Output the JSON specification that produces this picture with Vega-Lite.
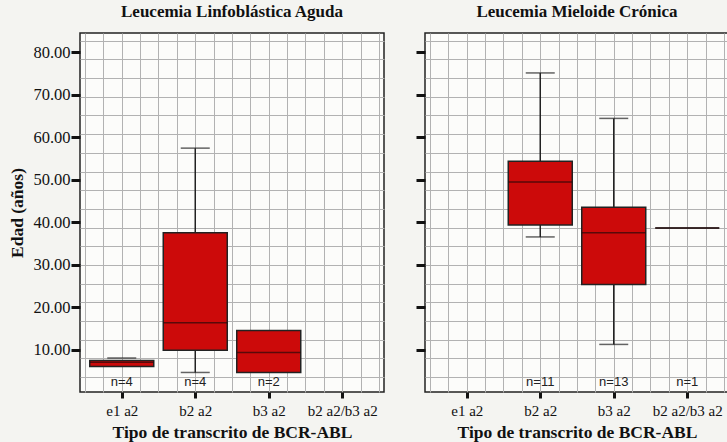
{
  "$schema": "https://vega.github.io/schema/vega-lite/v6.json",
  "background": "#f4f4f1",
  "padding": {"left": 8, "top": 1, "right": 0, "bottom": 0},
  "spacing": 28,
  "config": {
    "view": {"stroke": "#222222", "strokeWidth": 1.5, "fill": "#fcfcfa"},
    "font": "Liberation Serif",
    "title": {"font": "Liberation Serif", "fontSize": 17, "fontWeight": "bold", "color": "#111111", "offset": 12},
    "axis": {
      "labelFont": "Liberation Serif",
      "titleFont": "Liberation Serif",
      "titleFontWeight": "bold",
      "titleFontSize": 17.5,
      "titleColor": "#111111",
      "labelColor": "#111111",
      "domain": false,
      "grid": true,
      "gridColor": "#b2b2b2",
      "gridWidth": 1,
      "tickColor": "#111111",
      "tickWidth": 3,
      "tickCount": 200
    }
  },
  "datasets": {
    "lla": [
      {"tipo": "e1 a2", "min": null, "q1": 6.0, "mediana": 7.0, "q3": 7.4, "max": 8.0, "n": 4},
      {"tipo": "b2 a2", "min": 4.6, "q1": 9.8, "mediana": 16.3, "q3": 37.5, "max": 57.4, "n": 4},
      {"tipo": "b3 a2", "min": null, "q1": 4.6, "mediana": 9.3, "q3": 14.5, "max": null, "n": 2}
    ],
    "lmc": [
      {"tipo": "b2 a2", "min": 36.5, "q1": 39.3, "mediana": 49.4, "q3": 54.3, "max": 75.1, "n": 11},
      {"tipo": "b3 a2", "min": 11.2, "q1": 25.3, "mediana": 37.5, "q3": 43.5, "max": 64.4, "n": 13},
      {"tipo": "b2 a2/b3 a2", "min": null, "q1": 38.6, "mediana": 38.6, "q3": 38.6, "max": null, "n": 1}
    ]
  },
  "hconcat": [
    {
      "title": "Leucemia Linfoblástica Aguda",
      "width": 304,
      "height": 359,
      "data": {"name": "lla"},
      "transform": [
        {"calculate": "indexof(['e1 a2','b2 a2','b3 a2','b2 a2/b3 a2'], datum.tipo) + 1", "as": "idx"},
        {"calculate": "'n=' + datum.n", "as": "etiqueta"}
      ],
      "encoding": {
        "x": {
          "field": "idx", "type": "quantitative", "title": "Tipo de transcrito de BCR-ABL",
          "scale": {"domain": [0.5, 4.5], "nice": false, "zero": false},
          "axis": {
            "values": [0.5, 0.75, 1, 1.25, 1.5, 1.75, 2, 2.25, 2.5, 2.75, 3, 3.25, 3.5, 3.75, 4, 4.25, 4.5],
            "tickCount": 200,
            "labelExpr": "datum.value % 1 === 0 ? ['', 'e1 a2', 'b2 a2', 'b3 a2', 'b2 a2/b3 a2'][datum.value] : ''",
            "tickOpacity": {"condition": {"test": "datum.value % 1 === 0", "value": 1}, "value": 0},
            "tickSize": 6,
            "labelFontSize": 15,
            "labelPadding": 5,
            "titlePadding": 5,
            "labelOverlap": false
          }
        }
      },
      "layer": [
        {
          "mark": {"type": "rule", "color": "#222222", "strokeWidth": 1.5},
          "encoding": {
            "y": {
              "field": "min", "type": "quantitative", "title": "Edad (años)",
              "scale": {"domain": [0, 84.5], "nice": false, "zero": false},
              "axis": {
                "values": [3.5, 7.9, 10, 12.3, 16.7, 20, 21.1, 25.5, 29.9, 30, 34.3, 38.7, 40, 43.1, 47.5, 50, 51.9, 56.3, 60, 60.7, 65.1, 69.5, 70, 73.9, 78.3, 80, 82.7],
                "tickCount": 200,
                "labelExpr": "datum.value % 10 === 0 ? format(datum.value, '.2f') : ''",
                "tickOpacity": {"condition": {"test": "datum.value % 10 === 0", "value": 1}, "value": 0},
                "gridOpacity": {"condition": {"test": "datum.value % 10 === 0", "value": 0}, "value": 1},
                "tickSize": 9,
                "labelFontSize": 16.5,
                "labelPadding": 1,
                "titlePadding": 6,
                "labelOverlap": false
              }
            },
            "y2": {"field": "max"}
          }
        },
        {
          "mark": {"type": "tick", "orient": "horizontal", "size": 29, "thickness": 1.5, "color": "#222222"},
          "encoding": {"y": {"field": "max", "type": "quantitative", "title": "Edad (años)"}}
        },
        {
          "mark": {"type": "tick", "orient": "horizontal", "size": 29, "thickness": 1.5, "color": "#222222"},
          "encoding": {"y": {"field": "min", "type": "quantitative", "title": "Edad (años)"}}
        },
        {
          "mark": {"type": "bar", "width": 64, "fill": "#cc0a0a", "stroke": "#222222", "strokeWidth": 1.5},
          "encoding": {
            "y": {"field": "q1", "type": "quantitative", "title": "Edad (años)"},
            "y2": {"field": "q3"}
          }
        },
        {
          "mark": {"type": "tick", "orient": "horizontal", "size": 64, "thickness": 1.5, "color": "#2a0808"},
          "encoding": {"y": {"field": "mediana", "type": "quantitative", "title": "Edad (años)"}}
        },
        {
          "mark": {"type": "text", "font": "Liberation Sans", "fontSize": 13, "color": "#222222"},
          "encoding": {
            "y": {"datum": 2.3, "type": "quantitative", "title": "Edad (años)"},
            "text": {"field": "etiqueta"}
          }
        }
      ]
    },
    {
      "title": "Leucemia Mieloide Crónica",
      "width": 304,
      "height": 359,
      "data": {"name": "lmc"},
      "transform": [
        {"calculate": "indexof(['e1 a2','b2 a2','b3 a2','b2 a2/b3 a2'], datum.tipo) + 1", "as": "idx"},
        {"calculate": "'n=' + datum.n", "as": "etiqueta"}
      ],
      "encoding": {
        "x": {
          "field": "idx", "type": "quantitative", "title": "Tipo de transcrito de BCR-ABL",
          "scale": {"domain": [0.5, 4.5], "nice": false, "zero": false},
          "axis": {
            "values": [0.5, 0.75, 1, 1.25, 1.5, 1.75, 2, 2.25, 2.5, 2.75, 3, 3.25, 3.5, 3.75, 4, 4.25, 4.5],
            "tickCount": 200,
            "labelExpr": "datum.value % 1 === 0 ? ['', 'e1 a2', 'b2 a2', 'b3 a2', 'b2 a2/b3 a2'][datum.value] : ''",
            "tickOpacity": {"condition": {"test": "datum.value % 1 === 0", "value": 1}, "value": 0},
            "tickSize": 6,
            "labelFontSize": 15,
            "labelPadding": 5,
            "titlePadding": 5,
            "labelOverlap": false
          }
        }
      },
      "layer": [
        {
          "mark": {"type": "rule", "color": "#222222", "strokeWidth": 1.5},
          "encoding": {
            "y": {
              "field": "min", "type": "quantitative", "title": null,
              "scale": {"domain": [0, 84.5], "nice": false, "zero": false},
              "axis": {
                "values": [3.5, 7.9, 10, 12.3, 16.7, 20, 21.1, 25.5, 29.9, 30, 34.3, 38.7, 40, 43.1, 47.5, 50, 51.9, 56.3, 60, 60.7, 65.1, 69.5, 70, 73.9, 78.3, 80, 82.7],
                "tickCount": 200,
                "labels": false,
                "tickOpacity": {"condition": {"test": "datum.value % 10 === 0", "value": 1}, "value": 0},
                "gridOpacity": {"condition": {"test": "datum.value % 10 === 0", "value": 0}, "value": 1},
                "tickSize": 9
              }
            },
            "y2": {"field": "max"}
          }
        },
        {
          "mark": {"type": "tick", "orient": "horizontal", "size": 29, "thickness": 1.5, "color": "#222222"},
          "encoding": {"y": {"field": "max", "type": "quantitative", "title": null}}
        },
        {
          "mark": {"type": "tick", "orient": "horizontal", "size": 29, "thickness": 1.5, "color": "#222222"},
          "encoding": {"y": {"field": "min", "type": "quantitative", "title": null}}
        },
        {
          "mark": {"type": "bar", "width": 64, "fill": "#cc0a0a", "stroke": "#222222", "strokeWidth": 1.5},
          "encoding": {
            "y": {"field": "q1", "type": "quantitative", "title": null},
            "y2": {"field": "q3"}
          }
        },
        {
          "mark": {"type": "tick", "orient": "horizontal", "size": 64, "thickness": 1.5, "color": "#2a0808"},
          "encoding": {"y": {"field": "mediana", "type": "quantitative", "title": null}}
        },
        {
          "mark": {"type": "text", "font": "Liberation Sans", "fontSize": 13, "color": "#222222"},
          "encoding": {
            "y": {"datum": 2.3, "type": "quantitative", "title": null},
            "text": {"field": "etiqueta"}
          }
        }
      ]
    }
  ]
}
